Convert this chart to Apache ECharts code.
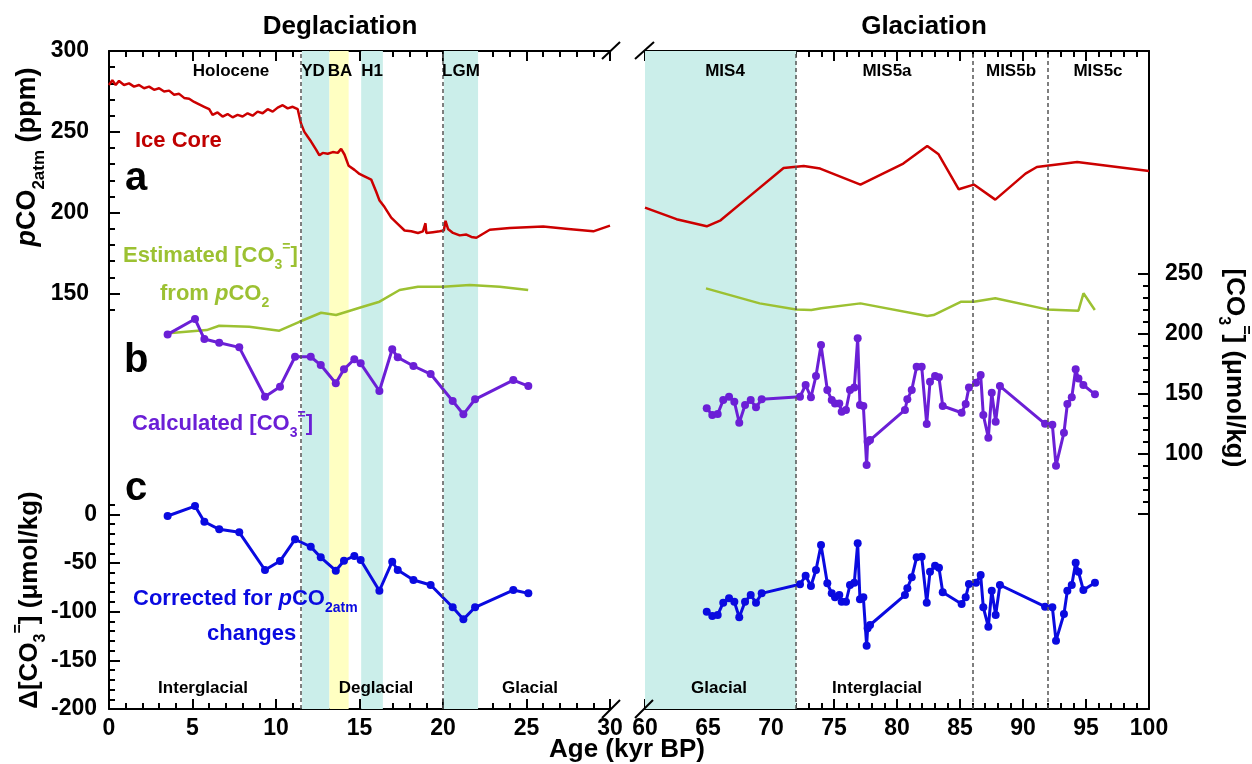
<!DOCTYPE html>
<html>
<head>
<meta charset="utf-8">
<script src="https://cdn.jsdelivr.net/npm/echarts@6/dist/echarts.min.js"></script>
<style>
  html, body { margin: 0; padding: 0; background: #fff; }
  #chart { width: 1252px; height: 764px; }
</style>
</head>
<body>
<div id="chart"></div>
<script>
// ---- data ----
// atmospheric pCO2 from ice core, [age kyr, ppm]
const iceCoreLeft = [
  [0, 279], [0.2, 282], [0.4, 279], [0.6, 281.5], [0.9, 279], [1.2, 280], [1.5, 278], [1.8, 279],
  [2.1, 277], [2.4, 278], [2.7, 276], [3.0, 277], [3.3, 275], [3.6, 275.5], [3.9, 273], [4.2, 273.5],
  [4.5, 271], [4.8, 270.5], [5.1, 268.5], [5.4, 267], [5.7, 265.5], [6.0, 264], [6.2, 260.5], [6.5, 262],
  [6.8, 259.5], [7.1, 261], [7.4, 259], [7.7, 260.5], [8.0, 259.5], [8.3, 261.5], [8.6, 260], [8.9, 262.5],
  [9.2, 261.5], [9.5, 264], [9.8, 262.5], [10.1, 265], [10.4, 266.5], [10.7, 264.5], [11.0, 265.5], [11.3, 264],
  [11.5, 255], [11.7, 250], [11.9, 247], [12.1, 244], [12.4, 239], [12.6, 235.5], [12.8, 237], [13.1, 236.5],
  [13.4, 237.5], [13.7, 237], [13.9, 239.5], [14.1, 236], [14.35, 229], [14.7, 226.5], [15.0, 224], [15.3, 222.5],
  [15.7, 220.5], [16.0, 213], [16.2, 207.5], [16.5, 203.5], [16.9, 197], [17.3, 193], [17.7, 189], [18.1, 188.5],
  [18.5, 187.5], [18.8, 188.5], [18.95, 193.5], [19.0, 187.5], [19.4, 188], [19.8, 188.5], [20.05, 189], [20.15, 195],
  [20.3, 190], [20.6, 187.5], [21.0, 186], [21.4, 186.5], [21.7, 185], [22.0, 184.5], [22.4, 187], [22.8, 189.5],
  [24.0, 190.5], [26.0, 191.5], [27.5, 190], [29.0, 188.5], [30.0, 192]
];
const iceCoreRight = [
  [60, 203.2], [62.5, 196], [64.9, 191.6], [66, 195.3], [68.5, 211.5], [71, 227.7], [72.6, 228.9],
  [73.9, 227.3], [77.1, 217.4], [80.5, 230.4], [82.4, 241.3], [83.3, 236.1], [84.9, 214.5], [86.1, 217.4],
  [87.8, 208.1], [90.2, 224.2], [91.1, 228.3], [94.3, 231.4], [100, 225.8]
];

// estimated [CO3=] from pCO2, [age kyr, umol/kg]
const estCO3Left = [
  [3.55, 200.1], [5.85, 202.8], [6.6, 206.4], [8.4, 205.6], [10.2, 202.3], [11.4, 209.7], [12.7, 217.2],
  [13.6, 215.3], [15.2, 222.2], [16.2, 226.4], [17.4, 236.1], [18.5, 238.9], [20.0, 238.9], [21.6, 240.3],
  [23.4, 238.9], [25.1, 236.1]
];
const estCO3Right = [
  [64.84, 237.5], [69.1, 225], [72.0, 220], [73.2, 219.5], [74.0, 220.9], [77.1, 225], [82.4, 214.5],
  [82.9, 215.3], [85.1, 226.4], [86.1, 226.3], [87.8, 229.2], [91.9, 220], [94.4, 218.9], [94.8, 233.4],
  [95.7, 219.5]
];

// sample ages (kyr BP)
const sampleAgeLeft = [3.51, 5.15, 5.71, 6.6, 7.8, 9.34, 10.24, 11.14, 12.08, 12.68, 13.58, 14.07,
  14.69, 15.07, 16.19, 16.96, 17.29, 18.23, 19.26, 20.58, 21.22, 21.92, 24.21, 25.11];
const sampleAgeRight = [64.9, 65.34, 65.77, 66.21, 66.67, 67.09, 67.48, 67.94, 68.39, 68.81, 69.26,
  72.3, 72.75, 73.17, 73.57, 73.97, 74.47, 74.82, 75.08, 75.42, 75.61, 75.95, 76.27, 76.61, 76.88,
  77.06, 77.33, 77.59, 77.67, 77.86, 80.63, 80.82, 81.17, 81.56, 81.96, 82.36, 82.62, 83.02, 83.33,
  83.63, 85.13, 85.45, 85.71, 86.27, 86.64, 86.85, 87.25, 87.52, 87.83, 88.17, 91.75, 92.33, 92.62,
  93.25, 93.52, 93.87, 94.18, 94.4, 94.79, 95.71];

// calculated [CO3=] (umol/kg)
const calcCO3Left = [199.2, 212, 195.3, 192.3, 188.4, 147.3, 155.7, 180.6, 180.6, 173.7, 158.5, 170.1,
  178.5, 175.1, 152.1, 186.8, 180.1, 172.9, 166.2, 143.8, 132.7, 145.2, 161.2, 156.2];
const calcCO3Right = [137.7, 132.1, 133, 144.6, 147.3, 143.2, 125.7, 140.4, 144.6, 138.5, 145.2,
  147.3, 157.1, 146.8, 164.6, 190.4, 152.9, 144.6, 141.8, 141.8, 134.9, 136.3, 152.9, 155.1, 195.9,
  140.4, 139.6, 90.5, 109.9, 111.3, 136.3, 145.2, 152.9, 172.3, 172.3, 124.6, 159.8, 164.6, 163.5,
  139.6, 134, 141.3, 155.1, 159, 165.4, 132.1, 113.2, 150.7, 126.5, 156.2, 124.8, 124, 90, 117.4,
  141.3, 146.8, 170.1, 162.6, 157.1, 149.3];

// delta [CO3=] corrected for pCO2atm changes (umol/kg)
const dCO3Left = [-1.7, 8.5, -7.6, -15.4, -18.5, -57.2, -48, -25.7, -33.3, -44.2, -57.9, -47.7,
  -42.8, -46.9, -78.5, -48.7, -57.2, -67.5, -72.6, -95.5, -107.9, -95.5, -77.8, -81.2];
const dCO3Right = [-100, -104.5, -103.4, -90.8, -86.3, -89.8, -105.8, -89.8, -82.9, -90.8, -81.2,
  -71.9, -63.1, -73.7, -57.2, -31.5, -70.9, -81.2, -85.3, -82.9, -89.8, -89.8, -72.6, -70.3, -29.8,
  -87.3, -85.3, -135, -117.1, -113.7, -82.9, -76, -64.7, -44.2, -43.6, -90.8, -59, -52.8, -54.8,
  -80.1, -92.1, -85.3, -71.6, -70.3, -62.4, -95.5, -115.5, -78.5, -103.4, -72.6, -94.9, -95.5,
  -129.8, -102.4, -78.5, -72.6, -49.7, -59, -77.8, -70.3];

// climate intervals: [start, end, kind]
const bandsLeft = [[11.55, 13.2, 'cold'], [13.2, 14.35, 'warm'], [15.1, 16.4, 'cold'], [20.05, 22.1, 'cold']];
const bandsRight = [[60, 72, 'cold']];
const boundsLeft = [11.5, 20];
const boundsRight = [72, 86, 92];

// axis tick values
const pco2Ticks = [150, 200, 250, 300];
const dco3Ticks = [-200, -150, -100, -50, 0];
const co3Ticks = [50, 100, 150, 200, 250];
const co3Labels = [100, 150, 200, 250];

// ---- drawing ----
const FONT = '"Liberation Sans", Arial, sans-serif';
const RED = '#cc0000', GREEN = '#9cc132', PURPLE = '#6b1fd6', BLUE = '#0a0ae0';
const bandColor = { cold: '#cbeeea', warm: '#ffffc2' };

function minorBetween(lo, hi, step, skip) {
  const out = [];
  for (let v = lo; v <= hi + 1e-9; v += step) {
    if (Math.abs(v % skip) > 1e-9) out.push(v);
  }
  return out;
}

const labelStyle = { color: '#000', fontSize: 23, fontWeight: 'bold', fontFamily: FONT };

function xAxis(grid, min, max, pos) {
  return {
    type: 'value', gridIndex: grid, min, max, interval: 5, position: pos,
    axisLine: { show: true, onZero: false, lineStyle: { color: '#000', width: 2 } },
    axisTick: { show: true, inside: true, length: 10, lineStyle: { color: '#000', width: 2 } },
    minorTick: { show: true, splitNumber: 5, length: 6, lineStyle: { color: '#000', width: 2 } },
    splitLine: { show: false },
    axisLabel: pos === 'bottom'
      ? Object.assign({ show: true, margin: 8, showMinLabel: true, showMaxLabel: true }, labelStyle)
      : { show: false }
  };
}

function yAxis(grid, min, max, pos, opts) {
  const ax = {
    type: 'value', gridIndex: grid, min, max, position: pos,
    axisLine: { show: !!opts.line, onZero: false, lineStyle: { color: '#000', width: 2 } },
    axisTick: { show: !!opts.ticks, inside: true, length: opts.len || 11,
      lineStyle: { color: '#000', width: 2 }, customValues: opts.ticks },
    splitLine: { show: false },
    axisLabel: opts.labels
      ? Object.assign({ show: true, margin: opts.margin || 14, customValues: opts.labels }, labelStyle)
      : { show: false }
  };
  if (opts.hidden) ax.show = false;
  return ax;
}

// axis extents chosen so the three scales land where the figure puts them
const PCO2 = [-106.85, 300];
const DCO3 = [-200, 476];
const CO3 = [-112.5, 435];

const pco2Minor = minorBetween(140, 290, 10, 50);
const dco3Minor = minorBetween(-190, 10, 10, 50);
const co3Minor = minorBetween(60, 240, 10, 50);

const chart = echarts.init(document.getElementById('chart'));

function pairs(ages, vals) {
  return ages.map((a, i) => [a, vals[i]]);
}

function bandArea(bands) {
  return {
    silent: true,
    label: { show: false },
    data: bands.map(b => [{ xAxis: b[0], itemStyle: { color: bandColor[b[2]] } }, { xAxis: b[1] }])
  };
}

function boundLines(xs) {
  return {
    silent: true, symbol: ['none', 'none'], label: { show: false },
    lineStyle: { type: [4, 3], color: '#555', width: 1.5 },
    data: xs.map(x => ({ xAxis: x }))
  };
}

function lineSeries(xi, yi, data, color, dots, extra) {
  return Object.assign({
    type: 'line', xAxisIndex: xi, yAxisIndex: yi, data,
    symbol: dots ? 'circle' : 'none', symbolSize: 8, showSymbol: dots,
    lineStyle: { color, width: dots ? 3 : 2.5 },
    itemStyle: { color },
    z: dots ? 4 : 3
  }, extra || {});
}

const sub = (size, color) => ({ fontSize: size, fontWeight: 'bold', fontFamily: FONT, fill: color, color,
  verticalAlign: 'bottom', lineHeight: size });
const sup = (size, color) => ({ fontSize: size, fontWeight: 'bold', fontFamily: FONT, fill: color, color,
  verticalAlign: 'top', lineHeight: size });
const main = (size, color, italic) => ({ fontSize: size, fontWeight: 'bold', fontFamily: FONT, color,
  fontStyle: italic ? 'italic' : 'normal', lineHeight: Math.round(size * 1.45) });

function text(x, y, str, size, color, align, rich, rotation) {
  return {
    type: 'text', x, y, z: 100, rotation: rotation || 0, silent: true,
    style: {
      text: str, fill: color, fontSize: size, fontWeight: 'bold', fontFamily: FONT,
      align: align || 'center', verticalAlign: 'middle', rich: rich
    }
  };
}

function seg(x1, y1, x2, y2) {
  return { type: 'line', z: 100, silent: true, shape: { x1, y1, x2, y2 }, style: { stroke: '#000', lineWidth: 2 } };
}

const option = {
  animation: false,
  backgroundColor: '#fff',
  grid: [
    { left: 109, top: 51, width: 501, height: 658 },
    { left: 645, top: 51, width: 504, height: 658 }
  ],
  xAxis: [
    xAxis(0, 0, 30, 'bottom'),
    xAxis(0, 0, 30, 'top'),
    xAxis(1, 60, 100, 'bottom'),
    xAxis(1, 60, 100, 'top')
  ],
  yAxis: [
    yAxis(0, PCO2[0], PCO2[1], 'left', { line: true, ticks: pco2Ticks, labels: pco2Ticks, margin: 20 }),   // 0
    yAxis(0, PCO2[0], PCO2[1], 'left', { ticks: pco2Minor, len: 6 }),                                      // 1
    yAxis(0, DCO3[0], DCO3[1], 'left', { ticks: dco3Ticks, labels: dco3Ticks, margin: 12 }),               // 2
    yAxis(0, DCO3[0], DCO3[1], 'left', { ticks: dco3Minor, len: 6 }),                                      // 3
    yAxis(1, CO3[0], CO3[1], 'right', { line: true, ticks: co3Ticks, labels: co3Labels, margin: 16 }),     // 4
    yAxis(1, CO3[0], CO3[1], 'right', { ticks: co3Minor, len: 6 }),                                        // 5
    yAxis(0, CO3[0], CO3[1], 'right', { hidden: true }),                                                   // 6
    yAxis(1, PCO2[0], PCO2[1], 'left', { hidden: true }),                                                  // 7
    yAxis(1, DCO3[0], DCO3[1], 'left', { hidden: true })                                                   // 8
  ],
  series: [
    lineSeries(0, 0, iceCoreLeft, RED, false, { markArea: bandArea(bandsLeft), markLine: boundLines(boundsLeft) }),
    lineSeries(2, 7, iceCoreRight, RED, false, { markArea: bandArea(bandsRight), markLine: boundLines(boundsRight) }),
    lineSeries(0, 6, estCO3Left, GREEN, false),
    lineSeries(2, 4, estCO3Right, GREEN, false),
    lineSeries(0, 6, pairs(sampleAgeLeft, calcCO3Left), PURPLE, true),
    lineSeries(2, 4, pairs(sampleAgeRight, calcCO3Right), PURPLE, true),
    lineSeries(0, 2, pairs(sampleAgeLeft, dCO3Left), BLUE, true),
    lineSeries(2, 8, pairs(sampleAgeRight, dCO3Right), BLUE, true)
  ],
  graphic: [
    // titles
    text(340, 27, 'Deglaciation', 26, '#000'),
    text(924, 27, 'Glaciation', 26, '#000'),
    text(627, 750, 'Age (kyr BP)', 26, '#000'),
    // axis names
    text(28, 157, '{i|p}{m|CO}{s|2atm}{m| (ppm)}', 27, '#000', 'center', {
      i: main(27, '#000', true), m: main(27, '#000'), s: sub(17, '#000')
    }, Math.PI / 2),
    text(30, 600, '{m|Δ[CO}{s|3}{p|=}{m|] (μmol/kg)}', 26, '#000', 'center', {
      m: main(26, '#000'), s: sub(16, '#000'), p: sup(16, '#000')
    }, Math.PI / 2),
    text(1234, 368, '{m|[CO}{s|3}{p|=}{m|] (μmol/kg)}', 26, '#000', 'center', {
      m: main(26, '#000'), s: sub(16, '#000'), p: sup(16, '#000')
    }, -Math.PI / 2),
    // interval names
    text(231, 71, 'Holocene', 17, '#000'),
    text(313, 71, 'YD', 17, '#000'),
    text(340, 71, 'BA', 17, '#000'),
    text(372, 71, 'H1', 17, '#000'),
    text(461, 71, 'LGM', 17, '#000'),
    text(725, 71, 'MIS4', 17, '#000'),
    text(887, 71, 'MIS5a', 17, '#000'),
    text(1011, 71, 'MIS5b', 17, '#000'),
    text(1098, 71, 'MIS5c', 17, '#000'),
    text(203, 688, 'Interglacial', 17, '#000'),
    text(376, 688, 'Deglacial', 17, '#000'),
    text(530, 688, 'Glacial', 17, '#000'),
    text(719, 688, 'Glacial', 17, '#000'),
    text(877, 688, 'Interglacial', 17, '#000'),
    // panel letters
    text(125, 179, 'a', 40, '#000', 'left'),
    text(124, 361, 'b', 40, '#000', 'left'),
    text(125, 489, 'c', 40, '#000', 'left'),
    // series labels
    text(135, 141, 'Ice Core', 22, '#c00000', 'left'),
    text(123, 256, '{m|Estimated [CO}{s|3}{p|=}{m|]}', 22, GREEN, 'left', {
      m: main(22, GREEN), s: sub(14, GREEN), p: sup(14, GREEN)
    }),
    text(160, 294, '{m|from }{i|p}{m|CO}{s|2}', 22, GREEN, 'left', {
      m: main(22, GREEN), i: main(22, GREEN, true), s: sub(14, GREEN)
    }),
    text(132, 424, '{m|Calculated [CO}{s|3}{p|=}{m|]}', 22, PURPLE, 'left', {
      m: main(22, PURPLE), s: sub(14, PURPLE), p: sup(14, PURPLE)
    }),
    text(133, 599, '{m|Corrected for }{i|p}{m|CO}{s|2atm}', 22, BLUE, 'left', {
      m: main(22, BLUE), i: main(22, BLUE, true), s: sub(14, BLUE)
    }),
    text(207, 634, 'changes', 22, BLUE, 'left'),
    // axis break marks
    seg(602, 59, 620, 42), seg(635, 59, 654, 42),
    seg(602, 718, 620, 700), seg(635, 718, 653, 700)
  ]
};

chart.setOption(option);
</script>
</body>
</html>
